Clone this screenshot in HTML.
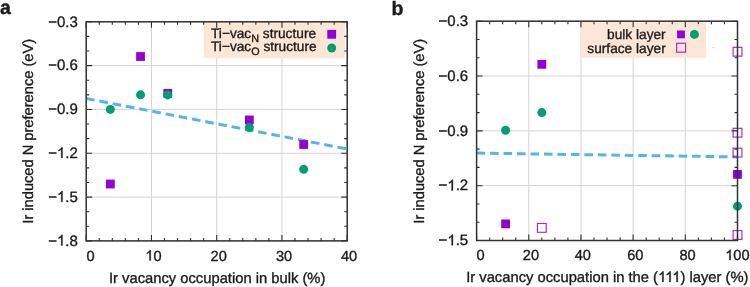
<!DOCTYPE html><html><head><meta charset="utf-8"><style>html,body{margin:0;padding:0;background:#fff;}svg{display:block;will-change:transform;}text{font-family:"Liberation Sans",sans-serif;fill:#1a1a1a;stroke:#1a1a1a;stroke-width:0.35px;text-rendering:geometricPrecision;}.h1{fill-opacity:0;stroke-opacity:0;}</style></head><body>
<svg width="750" height="287" viewBox="0 0 750 287">
<rect x="0" y="0" width="750" height="287" fill="#fff"/>
<line x1="151.45" y1="21.80" x2="151.45" y2="240.90" stroke="#d4d4d4" stroke-width="1"/>
<line x1="216.70" y1="21.80" x2="216.70" y2="240.90" stroke="#d4d4d4" stroke-width="1"/>
<line x1="281.95" y1="21.80" x2="281.95" y2="240.90" stroke="#d4d4d4" stroke-width="1"/>
<line x1="86.20" y1="65.62" x2="347.20" y2="65.62" stroke="#d4d4d4" stroke-width="1"/>
<line x1="86.20" y1="109.44" x2="347.20" y2="109.44" stroke="#d4d4d4" stroke-width="1"/>
<line x1="86.20" y1="153.26" x2="347.20" y2="153.26" stroke="#d4d4d4" stroke-width="1"/>
<line x1="86.20" y1="197.08" x2="347.20" y2="197.08" stroke="#d4d4d4" stroke-width="1"/>
<rect x="203.8" y="22.2" width="141.2" height="36.1" fill="#fde6d6"/>
<text x="211.0" y="37.6" font-size="13.7">Ti−vac<tspan font-size="10.8" dy="4">N</tspan><tspan dy="-4"> structure</tspan></text>
<text x="211.0" y="51.1" font-size="13.7">Ti−vac<tspan font-size="10.8" dy="4">O</tspan><tspan dy="-4"> structure</tspan></text>
<rect x="327.30" y="29.90" width="8.80" height="8.80" fill="#9400d3"/>
<circle cx="331.70" cy="48.00" r="4.5" fill="#009e73"/>
<path d="M86.20 240.90V234.90M86.20 21.80V27.80M151.45 240.90V234.90M151.45 21.80V27.80M216.70 240.90V234.90M216.70 21.80V27.80M281.95 240.90V234.90M281.95 21.80V27.80M347.20 240.90V234.90M347.20 21.80V27.80M99.25 240.90V237.90M99.25 21.80V24.80M112.30 240.90V237.90M112.30 21.80V24.80M125.35 240.90V237.90M125.35 21.80V24.80M138.40 240.90V237.90M138.40 21.80V24.80M164.50 240.90V237.90M164.50 21.80V24.80M177.55 240.90V237.90M177.55 21.80V24.80M190.60 240.90V237.90M190.60 21.80V24.80M203.65 240.90V237.90M203.65 21.80V24.80M229.75 240.90V237.90M229.75 21.80V24.80M242.80 240.90V237.90M242.80 21.80V24.80M255.85 240.90V237.90M255.85 21.80V24.80M268.90 240.90V237.90M268.90 21.80V24.80M295.00 240.90V237.90M295.00 21.80V24.80M308.05 240.90V237.90M308.05 21.80V24.80M321.10 240.90V237.90M321.10 21.80V24.80M334.15 240.90V237.90M334.15 21.80V24.80M86.20 21.80H92.20M347.20 21.80H341.20M86.20 65.62H92.20M347.20 65.62H341.20M86.20 109.44H92.20M347.20 109.44H341.20M86.20 153.26H92.20M347.20 153.26H341.20M86.20 197.08H92.20M347.20 197.08H341.20M86.20 240.90H92.20M347.20 240.90H341.20M86.20 36.41H89.20M347.20 36.41H344.20M86.20 51.01H89.20M347.20 51.01H344.20M86.20 80.23H89.20M347.20 80.23H344.20M86.20 94.83H89.20M347.20 94.83H344.20M86.20 124.05H89.20M347.20 124.05H344.20M86.20 138.65H89.20M347.20 138.65H344.20M86.20 167.87H89.20M347.20 167.87H344.20M86.20 182.47H89.20M347.20 182.47H344.20M86.20 211.69H89.20M347.20 211.69H344.20M86.20 226.29H89.20M347.20 226.29H344.20" stroke="#303030" stroke-width="1.1" fill="none"/>
<line x1="86.20" y1="98.50" x2="347.20" y2="149.00" stroke="#56b4e9" stroke-width="3" stroke-dasharray="8.6 4.87"/>
<rect x="105.94" y="179.62" width="8.80" height="8.80" fill="#9400d3"/>
<rect x="136.15" y="52.11" width="8.80" height="8.80" fill="#9400d3"/>
<rect x="163.36" y="88.91" width="8.80" height="8.80" fill="#9400d3"/>
<rect x="244.92" y="115.56" width="8.80" height="8.80" fill="#9400d3"/>
<rect x="299.28" y="140.10" width="8.80" height="8.80" fill="#9400d3"/>
<circle cx="110.34" cy="109.44" r="4.5" fill="#009e73"/>
<circle cx="140.55" cy="94.83" r="4.5" fill="#009e73"/>
<circle cx="167.76" cy="94.89" r="4.5" fill="#009e73"/>
<circle cx="249.32" cy="127.55" r="4.5" fill="#009e73"/>
<circle cx="303.68" cy="169.33" r="4.5" fill="#009e73"/>
<rect x="86.20" y="21.80" width="261.00" height="219.10" fill="none" stroke="#303030" stroke-width="1.5"/>
<text x="90.50" y="260.50" text-anchor="middle" font-size="14.6">0</text>
<text class="has1" x="153.45" y="260.50" text-anchor="middle" font-size="14.6"><tspan class="h1">1</tspan>0</text>
<text x="218.70" y="260.50" text-anchor="middle" font-size="14.6">20</text>
<text x="284.05" y="260.50" text-anchor="middle" font-size="14.6">30</text>
<text x="349.00" y="260.50" text-anchor="middle" font-size="14.6">40</text>
<text x="77.80" y="26.50" text-anchor="end" font-size="15">−0.3</text>
<text x="77.80" y="70.32" text-anchor="end" font-size="15">−0.6</text>
<text x="77.80" y="114.14" text-anchor="end" font-size="15">−0.9</text>
<text class="has1" x="77.80" y="157.96" text-anchor="end" font-size="15">−<tspan class="h1">1</tspan>.2</text>
<text class="has1" x="77.80" y="201.78" text-anchor="end" font-size="15">−<tspan class="h1">1</tspan>.5</text>
<text class="has1" x="77.80" y="245.60" text-anchor="end" font-size="15">−<tspan class="h1">1</tspan>.8</text>
<text x="217.20" y="282.60" text-anchor="middle" font-size="14.75">Ir vacancy occupation in bulk (%)</text>
<text transform="translate(33.30,131.3) rotate(-90)" x="0" y="0" text-anchor="middle" font-size="14.65">Ir induced N preference (eV)</text>
<line x1="528.78" y1="21.20" x2="528.78" y2="240.50" stroke="#d4d4d4" stroke-width="1"/>
<line x1="580.96" y1="21.20" x2="580.96" y2="240.50" stroke="#d4d4d4" stroke-width="1"/>
<line x1="633.14" y1="21.20" x2="633.14" y2="240.50" stroke="#d4d4d4" stroke-width="1"/>
<line x1="685.32" y1="21.20" x2="685.32" y2="240.50" stroke="#d4d4d4" stroke-width="1"/>
<line x1="476.60" y1="76.03" x2="737.50" y2="76.03" stroke="#d4d4d4" stroke-width="1"/>
<line x1="476.60" y1="130.85" x2="737.50" y2="130.85" stroke="#d4d4d4" stroke-width="1"/>
<line x1="476.60" y1="185.68" x2="737.50" y2="185.68" stroke="#d4d4d4" stroke-width="1"/>
<rect x="581" y="22.2" width="125" height="35.6" fill="#fde6d6"/>
<text x="665.7" y="38.9" text-anchor="end" font-size="13.7">bulk layer</text>
<text x="665.7" y="52.5" text-anchor="end" font-size="13.7">surface layer</text>
<rect x="677.10" y="30.50" width="7.80" height="7.80" fill="#9400d3"/>
<circle cx="694.40" cy="34.40" r="4.5" fill="#009e73"/>
<rect x="676.65" y="43.25" width="8.90" height="8.90" fill="none" stroke="#9400d3" stroke-opacity="0.85" stroke-width="1.15"/>
<path d="M476.60 240.50V234.50M476.60 21.20V27.20M528.78 240.50V234.50M528.78 21.20V27.20M580.96 240.50V234.50M580.96 21.20V27.20M633.14 240.50V234.50M633.14 21.20V27.20M685.32 240.50V234.50M685.32 21.20V27.20M737.50 240.50V234.50M737.50 21.20V27.20M489.65 240.50V237.50M489.65 21.20V24.20M502.69 240.50V237.50M502.69 21.20V24.20M515.74 240.50V237.50M515.74 21.20V24.20M541.83 240.50V237.50M541.83 21.20V24.20M554.87 240.50V237.50M554.87 21.20V24.20M567.91 240.50V237.50M567.91 21.20V24.20M594.00 240.50V237.50M594.00 21.20V24.20M607.05 240.50V237.50M607.05 21.20V24.20M620.10 240.50V237.50M620.10 21.20V24.20M646.18 240.50V237.50M646.18 21.20V24.20M659.23 240.50V237.50M659.23 21.20V24.20M672.27 240.50V237.50M672.27 21.20V24.20M698.37 240.50V237.50M698.37 21.20V24.20M711.41 240.50V237.50M711.41 21.20V24.20M724.45 240.50V237.50M724.45 21.20V24.20M476.60 21.20H482.60M737.50 21.20H731.50M476.60 76.03H482.60M737.50 76.03H731.50M476.60 130.85H482.60M737.50 130.85H731.50M476.60 185.68H482.60M737.50 185.68H731.50M476.60 240.50H482.60M737.50 240.50H731.50M476.60 39.48H479.60M737.50 39.48H734.50M476.60 57.75H479.60M737.50 57.75H734.50M476.60 94.30H479.60M737.50 94.30H734.50M476.60 112.58H479.60M737.50 112.58H734.50M476.60 149.12H479.60M737.50 149.12H734.50M476.60 167.40H479.60M737.50 167.40H734.50M476.60 203.95H479.60M737.50 203.95H734.50M476.60 222.22H479.60M737.50 222.22H734.50" stroke="#303030" stroke-width="1.1" fill="none"/>
<line x1="476.60" y1="153.10" x2="737.50" y2="156.90" stroke="#56b4e9" stroke-width="3" stroke-dasharray="8.6 4.87"/>
<rect x="501.19" y="219.47" width="8.80" height="8.80" fill="#9400d3"/>
<rect x="537.43" y="59.93" width="8.80" height="8.80" fill="#9400d3"/>
<rect x="733.10" y="169.94" width="8.80" height="8.80" fill="#9400d3"/>
<rect x="733.10" y="47.32" width="8.80" height="8.80" fill="none" stroke="#9400d3" stroke-opacity="0.85" stroke-width="1.15"/>
<rect x="737.00" y="51.22" width="1" height="1" fill="#9400d3" opacity="0.35"/>
<rect x="733.10" y="128.28" width="8.80" height="8.80" fill="none" stroke="#9400d3" stroke-opacity="0.85" stroke-width="1.15"/>
<rect x="737.00" y="132.18" width="1" height="1" fill="#9400d3" opacity="0.35"/>
<rect x="733.10" y="148.20" width="8.80" height="8.80" fill="none" stroke="#9400d3" stroke-opacity="0.85" stroke-width="1.15"/>
<rect x="737.00" y="152.10" width="1" height="1" fill="#9400d3" opacity="0.35"/>
<rect x="733.10" y="230.62" width="8.80" height="8.80" fill="none" stroke="#9400d3" stroke-opacity="0.85" stroke-width="1.15"/>
<rect x="737.00" y="234.52" width="1" height="1" fill="#9400d3" opacity="0.35"/>
<rect x="537.43" y="223.49" width="8.80" height="8.80" fill="none" stroke="#9400d3" stroke-opacity="0.85" stroke-width="1.15"/>
<rect x="541.33" y="227.39" width="1" height="1" fill="#9400d3" opacity="0.35"/>
<circle cx="505.59" cy="130.30" r="4.5" fill="#009e73"/>
<circle cx="541.83" cy="112.58" r="4.5" fill="#009e73"/>
<circle cx="737.50" cy="206.14" r="4.5" fill="#009e73"/>
<rect x="712.7" y="47.2" width="1" height="1" fill="#999"/>
<rect x="476.60" y="21.20" width="260.90" height="219.30" fill="none" stroke="#303030" stroke-width="1.5"/>
<text x="480.50" y="260.10" text-anchor="middle" font-size="14.6">0</text>
<text x="530.98" y="260.10" text-anchor="middle" font-size="14.6">20</text>
<text x="582.76" y="260.10" text-anchor="middle" font-size="14.6">40</text>
<text x="635.34" y="260.10" text-anchor="middle" font-size="14.6">60</text>
<text x="687.62" y="260.10" text-anchor="middle" font-size="14.6">80</text>
<text class="has1" x="737.40" y="260.10" text-anchor="middle" font-size="14.6"><tspan class="h1">1</tspan>00</text>
<text x="468.20" y="25.90" text-anchor="end" font-size="15">−0.3</text>
<text x="468.20" y="80.73" text-anchor="end" font-size="15">−0.6</text>
<text x="468.20" y="135.55" text-anchor="end" font-size="15">−0.9</text>
<text class="has1" x="468.20" y="190.38" text-anchor="end" font-size="15">−<tspan class="h1">1</tspan>.2</text>
<text class="has1" x="468.20" y="245.20" text-anchor="end" font-size="15">−<tspan class="h1">1</tspan>.5</text>
<text class="has1" x="607.35" y="281.90" text-anchor="middle" font-size="14.75">Ir vacancy occupation in the (<tspan class="h1">1</tspan><tspan class="h1">1</tspan><tspan class="h1">1</tspan>) layer (%)</text>
<text transform="translate(423.70,131.3) rotate(-90)" x="0" y="0" text-anchor="middle" font-size="14.65">Ir induced N preference (eV)</text>
<text x="0.1" y="14.4" font-size="19.5" font-weight="bold">a</text>
<text x="391.6" y="15.3" font-size="19.5" font-weight="bold">b</text>
<path transform="translate(145.32,260.50) scale(0.007129,-0.007129)" d="M583 0H763V1466H646C614 1402 560 1335 484 1266C408 1197 321 1141 223 1098V925C274 944 332 972 397 1010C462 1048 524 1091 583 1140Z" fill="#1a1a1a" stroke="#1a1a1a" stroke-width="49.1"/>
<path transform="translate(56.94,157.96) scale(0.007324,-0.007324)" d="M583 0H763V1466H646C614 1402 560 1335 484 1266C408 1197 321 1141 223 1098V925C274 944 332 972 397 1010C462 1048 524 1091 583 1140Z" fill="#1a1a1a" stroke="#1a1a1a" stroke-width="47.8"/>
<path transform="translate(56.94,201.78) scale(0.007324,-0.007324)" d="M583 0H763V1466H646C614 1402 560 1335 484 1266C408 1197 321 1141 223 1098V925C274 944 332 972 397 1010C462 1048 524 1091 583 1140Z" fill="#1a1a1a" stroke="#1a1a1a" stroke-width="47.8"/>
<path transform="translate(56.94,245.60) scale(0.007324,-0.007324)" d="M583 0H763V1466H646C614 1402 560 1335 484 1266C408 1197 321 1141 223 1098V925C274 944 332 972 397 1010C462 1048 524 1091 583 1140Z" fill="#1a1a1a" stroke="#1a1a1a" stroke-width="47.8"/>
<path transform="translate(725.22,260.10) scale(0.007129,-0.007129)" d="M583 0H763V1466H646C614 1402 560 1335 484 1266C408 1197 321 1141 223 1098V925C274 944 332 972 397 1010C462 1048 524 1091 583 1140Z" fill="#1a1a1a" stroke="#1a1a1a" stroke-width="49.1"/>
<path transform="translate(447.34,190.38) scale(0.007324,-0.007324)" d="M583 0H763V1466H646C614 1402 560 1335 484 1266C408 1197 321 1141 223 1098V925C274 944 332 972 397 1010C462 1048 524 1091 583 1140Z" fill="#1a1a1a" stroke="#1a1a1a" stroke-width="47.8"/>
<path transform="translate(447.34,245.20) scale(0.007324,-0.007324)" d="M583 0H763V1466H646C614 1402 560 1335 484 1266C408 1197 321 1141 223 1098V925C274 944 332 972 397 1010C462 1048 524 1091 583 1140Z" fill="#1a1a1a" stroke="#1a1a1a" stroke-width="47.8"/>
<path transform="translate(658.05,281.90) scale(0.007202,-0.007202)" d="M583 0H763V1466H646C614 1402 560 1335 484 1266C408 1197 321 1141 223 1098V925C274 944 332 972 397 1010C462 1048 524 1091 583 1140Z" fill="#1a1a1a" stroke="#1a1a1a" stroke-width="48.6"/>
<path transform="translate(665.15,281.90) scale(0.007202,-0.007202)" d="M583 0H763V1466H646C614 1402 560 1335 484 1266C408 1197 321 1141 223 1098V925C274 944 332 972 397 1010C462 1048 524 1091 583 1140Z" fill="#1a1a1a" stroke="#1a1a1a" stroke-width="48.6"/>
<path transform="translate(672.26,281.90) scale(0.007202,-0.007202)" d="M583 0H763V1466H646C614 1402 560 1335 484 1266C408 1197 321 1141 223 1098V925C274 944 332 972 397 1010C462 1048 524 1091 583 1140Z" fill="#1a1a1a" stroke="#1a1a1a" stroke-width="48.6"/>
</svg></body></html>
